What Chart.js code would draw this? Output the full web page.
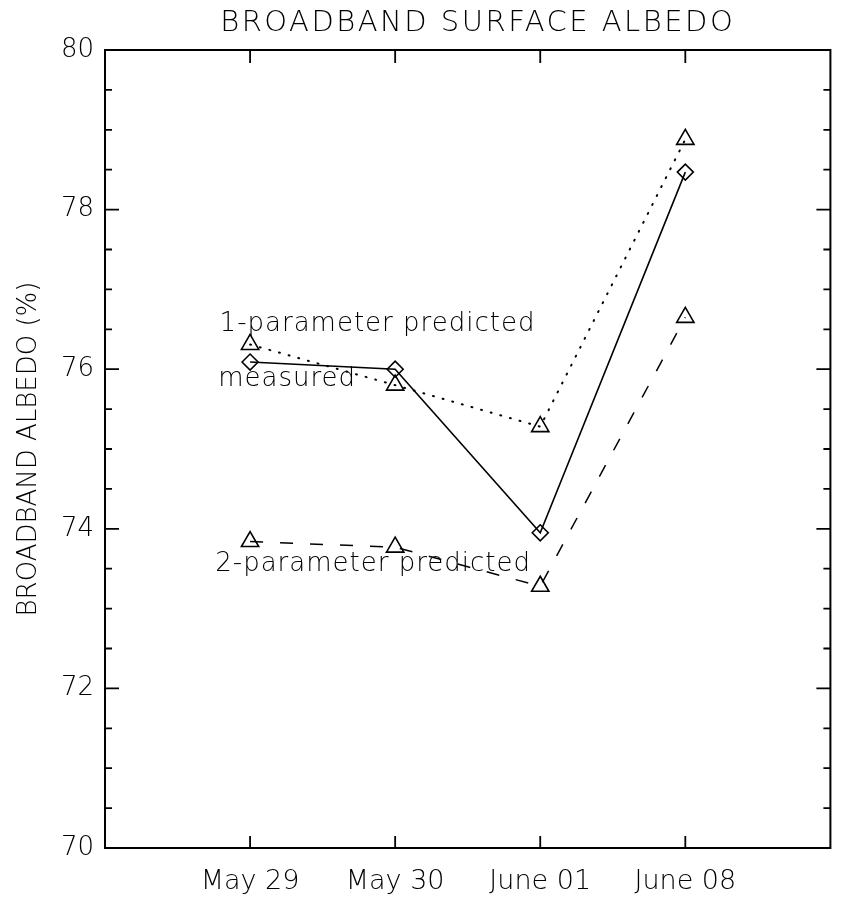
<!DOCTYPE html>
<html>
<head>
<meta charset="utf-8">
<script src="https://cdn.jsdelivr.net/npm/chart.js@4.4.1/dist/chart.umd.min.js"></script>
<style>
    html, body { margin: 0; padding: 0; background: #fff; overflow: hidden; }
    #wrap { width: 842px; height: 898px; position: relative; }
    #albedo-chart { display: block; }
</style>
</head>
<body>
<div id="wrap"><canvas id="albedo-chart"></canvas></div>
<script>
Chart.defaults.font.family = "'DejaVu Sans', sans-serif";
Chart.defaults.font.weight = 200;
Chart.defaults.color = "#000";

// dates on the x axis (placed at 1..4, with a blank slot on each side)
const DATES = ["May 29", "May 30", "June 01", "June 08"];

// broadband albedo, %
const MEASURED = [76.09, 76.00, 73.95, 78.47];
const ONE_PARAM = [76.31, 75.80, 75.28, 78.88];
const TWO_PARAM = [73.84, 73.77, 73.28, 76.65];

const Y_MIN = 70, Y_MAX = 80, Y_STEP = 2, Y_MINOR = 0.5;

// curve names written inside the plot (x in date slots, y in %)
const NOTES = [
    { text: "1-parameter predicted", x: 0.79, y: 76.56 },
    { text: "measured", x: 0.78, y: 75.87 },
    { text: "2-parameter predicted", x: 0.76, y: 73.55 },
];

function toPoints(vals) {
    return vals.map((v, i) => ({ x: i + 1, y: v }));
}

// frame, inward tick marks, title and curve names
const framePlugin = {
    id: "frame",
    afterDraw(chart) {
        const ctx = chart.ctx;
        const a = chart.chartArea;
        const xs = chart.scales.x, ys = chart.scales.y;

        ctx.save();
        ctx.strokeStyle = "#000";
        ctx.lineWidth = 2;
        ctx.strokeRect(a.left, a.top, a.right - a.left, a.bottom - a.top);

        ctx.lineWidth = 1.8;
        ctx.beginPath();
        for (let v = Y_MIN + Y_MINOR; v < Y_MAX; v += Y_MINOR) {
            const y = ys.getPixelForValue(v);
            const len = (Math.abs(v % Y_STEP) < 1e-6) ? 14 : 7;
            ctx.moveTo(a.left, y);
            ctx.lineTo(a.left + len, y);
            ctx.moveTo(a.right, y);
            ctx.lineTo(a.right - len, y);
        }
        for (let i = 1; i <= DATES.length; i++) {
            const x = xs.getPixelForValue(i);
            ctx.moveTo(x, a.bottom);
            ctx.lineTo(x, a.bottom - 12);
            ctx.moveTo(x, a.top);
            ctx.lineTo(x, a.top + 13);
        }
        ctx.stroke();

        ctx.fillStyle = "#000";
        ctx.textBaseline = "middle";

        ctx.font = "200 29px 'DejaVu Sans'";
        ctx.letterSpacing = "2.5px";
        ctx.textAlign = "center";
        ctx.fillText("BROADBAND SURFACE ALBEDO", (a.left + a.right) / 2 + 10, 23);

        ctx.font = "200 26px 'DejaVu Sans'";
        ctx.letterSpacing = "1px";
        ctx.textAlign = "left";
        NOTES.forEach(n => {
            ctx.fillText(n.text, xs.getPixelForValue(n.x), ys.getPixelForValue(n.y));
        });
        ctx.restore();
    }
};

const chartEl = document.getElementById("albedo-chart");
const albedoChart = new Chart(chartEl, {
    type: "line",
    data: {
        datasets: [
            {
                label: "1-parameter predicted",
                data: toPoints(ONE_PARAM),
                borderColor: "#000",
                borderWidth: 2,
                borderDash: [1, 9],
                borderCapStyle: "round",
                pointStyle: "triangle",
                pointRadius: 10,
                pointBorderWidth: 1.6,
                pointBorderColor: "#000",
                pointBackgroundColor: "rgba(0,0,0,0)",
                tension: 0,
            },
            {
                label: "2-parameter predicted",
                data: toPoints(TWO_PARAM),
                borderColor: "#000",
                borderWidth: 1.5,
                borderDash: [13, 17],
                pointStyle: "triangle",
                pointRadius: 10,
                pointBorderWidth: 1.6,
                pointBorderColor: "#000",
                pointBackgroundColor: "rgba(0,0,0,0)",
                tension: 0,
            },
            {
                label: "measured",
                data: toPoints(MEASURED),
                borderColor: "#000",
                borderWidth: 1.6,
                pointStyle: "rectRot",
                pointRadius: 8,
                pointBorderWidth: 1.6,
                pointBorderColor: "#000",
                pointBackgroundColor: "rgba(0,0,0,0)",
                tension: 0,
            },
        ]
    },
    options: {
        responsive: true,
        maintainAspectRatio: false,
        animation: false,
        layout: {
            padding: { top: 50, right: -4, left: 0, bottom: 0 }
        },
        plugins: {
            legend: { display: false },
            tooltip: { enabled: false },
        },
        scales: {
            x: {
                type: "linear",
                min: 0,
                max: DATES.length + 1,
                grid: { display: false, drawTicks: false },
                border: { display: false },
                afterFit: (s) => {
                    s.height = 50;
                    s.paddingLeft = 0;
                    s.paddingRight = 0;
                },
                ticks: {
                    stepSize: 1,
                    autoSkip: false,
                    maxRotation: 0,
                    padding: 18,
                    font: { size: 27 },
                    callback: (v) => DATES[v - 1] || "",
                }
            },
            y: {
                min: Y_MIN,
                max: Y_MAX,
                grid: { display: false, drawTicks: false },
                border: { display: false },
                afterFit: (s) => { s.width = 105; },
                ticks: {
                    stepSize: Y_STEP,
                    padding: 11,
                    font: { size: 26 },
                },
                title: {
                    display: true,
                    text: "BROADBAND ALBEDO (%)",
                    font: { size: 26 },
                    padding: { top: 14, bottom: 0 },
                }
            }
        }
    },
    plugins: [framePlugin]
});
</script>
</body>
</html>
